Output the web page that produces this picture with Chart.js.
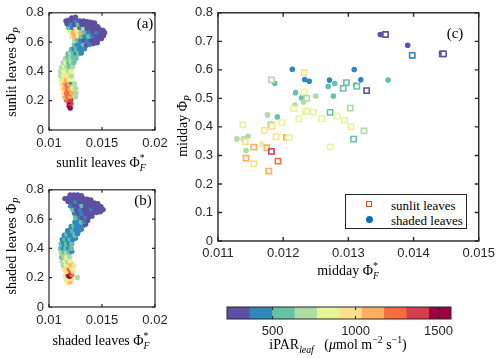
<!DOCTYPE html>
<html>
<head>
<meta charset="utf-8">
<script src="https://cdn.jsdelivr.net/npm/chart.js@4.4.1/dist/chart.umd.min.js"></script>
<style>
  body { margin:0; background:#fff; width:500px; height:358px; position:relative; overflow:hidden; font-family:"Liberation Serif", serif; }
  canvas { position:absolute; }
  .lbl { position:absolute; white-space:nowrap; font-size:14px; color:#000; transform:translate(-50%,-50%); line-height:1; }
  .rot { transform:translate(-50%,-50%) rotate(-90deg); }
  sub, sup { font-size:70%; line-height:0; }
  .ss { display:inline-block; vertical-align:-0.45em; font-size:70%; line-height:1; }
  .ss > span { display:block; }
  .pan { font-size:15px; }
  #leg { position:absolute; left:345px; top:194px; width:120px; height:33px; border:1px solid #262626; background:#fff; }
  #leg .t { position:absolute; left:45px; font-size:13px; line-height:1; transform:translateY(-50%); white-space:nowrap; }
</style>
</head>
<body>
<canvas id="chartA" width="175" height="160" style="left:0;top:0"></canvas>
<canvas id="chartB" width="175" height="160" style="left:0;top:177px"></canvas>
<canvas id="chartC" width="340" height="290" style="left:160px;top:0"></canvas>
<canvas id="cbar" width="280" height="60" style="left:200px;top:295px"></canvas>

<div class="lbl rot" style="left:12px;top:72px">sunlit leaves Φ<sub><i>P</i></sub></div>
<div class="lbl" style="left:101px;top:163px">sunlit leaves Φ<span class="ss"><span>*</span><span><i>F</i></span></span></div>
<div class="lbl rot" style="left:12px;top:246px">shaded leaves Φ<sub><i>P</i></sub></div>
<div class="lbl" style="left:101px;top:341px">shaded leaves Φ<span class="ss"><span>*</span><span><i>F</i></span></span></div>
<div class="lbl rot" style="left:183px;top:126px">midday Φ<sub><i>P</i></sub></div>
<div class="lbl" style="left:348px;top:271px">midday Φ<span class="ss"><span>*</span><span><i>F</i></span></span></div>
<div class="lbl" style="left:338px;top:345px">iPAR<sub><i>leaf</i></sub>&nbsp;&nbsp;&nbsp;(<i>μ</i>mol m<sup>−2</sup> s<sup>−1</sup>)</div>
<div class="lbl pan" style="left:145px;top:23px">(a)</div>
<div class="lbl pan" style="left:143px;top:200px">(b)</div>
<div class="lbl pan" style="left:455px;top:33px">(c)</div>
<div id="leg">
  <div style="position:absolute;left:20px;top:6px;width:4px;height:4px;border:1.5px solid #d95319;background:#fff"></div>
  <div class="t" style="top:10px">sunlit leaves</div>
  <div style="position:absolute;left:20px;top:21px;width:7px;height:7px;border-radius:50%;background:#0072bd"></div>
  <div class="t" style="top:25px">shaded leaves</div>
</div>

<script>
// colour bar (iPAR leaf bins)
const parEdges = [225, 360, 495, 630, 765, 900, 1035, 1170, 1305, 1440, 1575];
const parColors = ['#5e4fa2','#3288bd','#66c2a5','#abdda4','#e6f598','#fee08b','#fdae61','#f46d43','#d53e4f','#9e0142'];
const parTicks = [500, 1000, 1500];

// panel (c): midday values
const sunlitX = [0.01232,0.01182,0.01232,0.01236,0.01216,0.01234,0.01237,0.01246,0.01224,0.01259,0.01272,0.01283,0.01294,0.01198,0.01181,0.01183,0.01138,0.01171,0.01189,0.01205,0.01209,0.01142,0.01155,0.01175,0.01182,0.01143,0.01155,0.01192,0.01178,0.01272,0.01357,0.01398,0.01444,0.01446,0.01297,0.01292,0.01313,0.01328,0.01303,0.01304,0.01324,0.01308];
const sunlitY = [0.590,0.565,0.522,0.500,0.464,0.453,0.455,0.452,0.428,0.428,0.451,0.438,0.423,0.415,0.408,0.402,0.407,0.388,0.365,0.363,0.363,0.348,0.329,0.327,0.314,0.290,0.271,0.280,0.245,0.330,0.724,0.651,0.656,0.656,0.555,0.535,0.542,0.527,0.466,0.400,0.386,0.357];
const sunlitPAR = [968,698,832,698,832,832,832,832,832,832,562,832,832,832,698,968,832,968,968,1102,832,968,1102,1102,1372,1102,968,1238,1102,832,292,428,292,292,562,562,562,292,698,832,698,562];

const shadedX = [0.01214,0.01233,0.01240,0.01271,0.01309,0.01319,0.01187,0.01219,0.01228,0.01269,0.01279,0.01277,0.01311,0.01361,0.01191,0.01231,0.01218,0.01250,0.01176,0.01129,0.01139,0.01146,0.01143,0.01167,0.01349,0.01391];
const shadedY = [0.602,0.566,0.560,0.564,0.601,0.565,0.553,0.520,0.502,0.542,0.552,0.508,0.548,0.564,0.435,0.487,0.477,0.508,0.442,0.358,0.358,0.367,0.317,0.341,0.724,0.686];
const shadedPAR = [428,428,428,428,428,428,562,562,562,562,562,562,562,562,562,698,698,698,698,698,698,698,698,832,292,292];

// panel (a): sunlit leaves, [PhiF*, PhiP, iPAR]
const sunlitCloud = [
  [0.01200,0.150,1508],[0.01190,0.165,1508],[0.01205,0.180,1372],[0.01185,0.195,1508],[0.01165,0.205,1238],[0.01205,0.205,1372],
  [0.01150,0.225,1102],[0.01175,0.225,1238],[0.01200,0.230,1102],[0.01250,0.225,698],[0.01140,0.250,968],[0.01165,0.250,1238],[0.01190,0.250,1238],[0.01215,0.255,1102],[0.01255,0.250,698],
  [0.01130,0.280,968],[0.01150,0.285,1102],[0.01175,0.275,1238],[0.01200,0.280,1102],[0.01225,0.285,832],[0.01250,0.285,698],
  [0.01120,0.310,832],[0.01145,0.315,1102],[0.01170,0.305,1238],[0.01195,0.310,1102],[0.01220,0.320,968],[0.01208,0.327,428],[0.01240,0.315,698],
  [0.01115,0.340,832],[0.01140,0.345,968],[0.01165,0.340,1102],[0.01190,0.345,968],[0.01215,0.345,832],
  [0.01110,0.370,698],[0.01135,0.375,832],[0.01160,0.370,968],[0.01185,0.375,832],[0.01210,0.370,698],
  [0.01110,0.400,698],[0.01135,0.405,832],[0.01160,0.400,832],[0.01185,0.405,698],[0.01210,0.400,832],
  [0.01120,0.430,698],[0.01145,0.435,832],[0.01170,0.430,698],[0.01195,0.435,562],[0.01220,0.430,698],
  [0.01135,0.460,698],[0.01160,0.465,832],[0.01185,0.460,562],[0.01210,0.465,698],[0.01235,0.460,562],
  [0.01155,0.490,698],[0.01180,0.495,562],[0.01205,0.490,698],[0.01230,0.495,562],[0.01255,0.490,562],
  [0.01180,0.520,562],[0.01205,0.525,698],[0.01230,0.520,562],[0.01255,0.525,428],[0.01280,0.520,562],[0.01305,0.525,428],
  [0.01210,0.550,562],[0.01235,0.555,428],[0.01260,0.550,562],[0.01285,0.555,428],[0.01310,0.550,428],[0.01335,0.555,428],
  [0.01240,0.580,562],[0.01265,0.585,428],[0.01295,0.580,428],[0.01325,0.585,562],[0.01355,0.580,292],[0.01385,0.585,428],[0.01420,0.590,292],[0.01455,0.595,292],
  [0.01240,0.610,698],[0.01270,0.615,562],[0.01300,0.610,428],[0.01330,0.615,292],[0.01360,0.610,428],[0.01395,0.615,292],[0.01430,0.615,292],[0.01465,0.620,292],[0.01495,0.625,292],
  [0.01215,0.640,968],[0.01245,0.640,1102],[0.01275,0.645,832],[0.01305,0.640,562],[0.01340,0.645,428],[0.01375,0.640,562],[0.01410,0.645,428],[0.01445,0.645,292],[0.01480,0.645,292],[0.01515,0.645,292],
  [0.01200,0.670,832],[0.01230,0.665,1102],[0.01265,0.670,832],[0.01300,0.665,1102],[0.01335,0.670,562],[0.01370,0.670,428],[0.01410,0.670,292],[0.01450,0.670,428],[0.01490,0.665,292],[0.01525,0.665,292],
  [0.01185,0.700,562],[0.01220,0.700,428],[0.01255,0.695,968],[0.01290,0.700,428],[0.01325,0.700,698],[0.01360,0.695,292],[0.01400,0.695,292],[0.01440,0.690,292],[0.01480,0.685,292],[0.01510,0.680,292],
  [0.01170,0.725,292],[0.01205,0.725,428],[0.01240,0.720,292],[0.01275,0.725,562],[0.01310,0.720,292],[0.01345,0.720,292],[0.01380,0.715,292],[0.01420,0.710,292],[0.01460,0.705,292],
  [0.01160,0.745,292],[0.01190,0.750,292],[0.01220,0.755,292],[0.01255,0.750,428],[0.01290,0.745,292],[0.01325,0.745,292],[0.01360,0.740,292],[0.01395,0.735,292],[0.01430,0.730,292],
  [0.01215,0.765,292],[0.01250,0.770,292]
];

// panel (b): shaded leaves, [PhiF*, PhiP, iPAR]
const shadedCloud = [
  [0.01180,0.165,968],[0.01200,0.175,1102],[0.01165,0.185,832],[0.01190,0.195,968],[0.01212,0.190,968],
  [0.01155,0.210,832],[0.01180,0.215,1372],[0.01195,0.210,1508],[0.01215,0.220,1238],[0.01175,0.235,1508],[0.01200,0.240,1372],[0.01160,0.240,968],[0.01225,0.245,968],[0.01268,0.202,698],
  [0.01140,0.260,832],[0.01165,0.265,968],[0.01190,0.260,1238],[0.01215,0.265,832],[0.01135,0.285,698],[0.01160,0.290,832],[0.01185,0.285,968],[0.01210,0.290,1102],[0.01232,0.280,968],
  [0.01125,0.310,698],[0.01150,0.315,832],[0.01175,0.310,698],[0.01200,0.315,832],[0.01120,0.340,562],[0.01145,0.345,698],[0.01170,0.340,832],[0.01195,0.345,698],
  [0.01115,0.370,698],[0.01140,0.375,562],[0.01165,0.370,698],[0.01190,0.375,562],[0.01215,0.380,428],[0.01110,0.400,562],[0.01135,0.405,428],[0.01160,0.400,562],[0.01185,0.405,428],[0.01210,0.400,562],
  [0.01115,0.430,562],[0.01140,0.435,428],[0.01165,0.430,562],[0.01190,0.435,428],[0.01215,0.430,562],[0.01125,0.460,428],[0.01150,0.465,562],[0.01175,0.460,428],[0.01200,0.465,562],[0.01225,0.460,428],[0.01250,0.470,428],
  [0.01145,0.490,428],[0.01170,0.495,562],[0.01195,0.490,428],[0.01220,0.495,428],[0.01245,0.490,562],[0.01270,0.500,428],[0.01175,0.520,428],[0.01200,0.525,428],[0.01225,0.520,562],[0.01250,0.525,428],[0.01280,0.520,428],[0.01305,0.530,428],
  [0.01210,0.550,428],[0.01235,0.555,562],[0.01260,0.550,428],[0.01290,0.555,428],[0.01320,0.555,428],[0.01345,0.565,292],[0.01245,0.580,428],[0.01275,0.585,428],[0.01305,0.580,562],[0.01335,0.585,428],[0.01365,0.590,292],
  [0.01250,0.610,562],[0.01285,0.615,428],[0.01315,0.610,292],[0.01345,0.615,428],[0.01375,0.615,292],[0.01405,0.620,292],
  [0.01240,0.640,428],[0.01275,0.640,292],[0.01310,0.640,428],[0.01345,0.640,292],[0.01380,0.640,292],[0.01415,0.645,292],[0.01450,0.645,292],[0.01485,0.650,292],
  [0.01225,0.665,562],[0.01260,0.665,292],[0.01295,0.665,428],[0.01330,0.665,292],[0.01365,0.665,292],[0.01400,0.670,428],[0.01435,0.670,292],[0.01470,0.670,292],[0.01510,0.665,292],
  [0.01205,0.690,428],[0.01240,0.695,292],[0.01275,0.690,292],[0.01310,0.695,562],[0.01345,0.690,292],[0.01380,0.690,292],[0.01415,0.690,292],[0.01450,0.690,292],[0.01490,0.685,292],
  [0.01180,0.720,292],[0.01215,0.720,292],[0.01250,0.720,428],[0.01285,0.720,292],[0.01320,0.720,292],[0.01355,0.715,292],[0.01390,0.715,292],[0.01425,0.710,292],[0.01460,0.705,292],
  [0.01150,0.740,292],[0.01185,0.745,292],[0.01220,0.745,292],[0.01255,0.745,292],[0.01290,0.745,292],[0.01325,0.740,292],[0.01360,0.735,292],[0.01395,0.730,292],
  [0.01200,0.765,292],[0.01235,0.765,292],[0.01270,0.765,292],[0.01305,0.760,292]
];

function parColor(v) {
  let i = Math.floor((v - parEdges[0]) / (parEdges[1] - parEdges[0]));
  return parColors[Math.max(0, Math.min(parColors.length - 1, i))];
}

const tickFont = { family: 'Liberation Sans', size: 13 };
const tickColor = '#262626';

// frame with inward ticks on all four sides
const boxPlugin = {
  id: 'box',
  afterDraw(chart, args, opts) {
    const { ctx, chartArea: a, scales } = chart;
    const len = opts.len || 3;
    ctx.save();
    ctx.strokeStyle = '#262626';
    ctx.lineWidth = opts.width || 1.2;
    ctx.strokeRect(a.left, a.top, a.right - a.left, a.bottom - a.top);
    ctx.beginPath();
    const sx = scales.x;
    sx.ticks.forEach(t => {
      const p = sx.getPixelForValue(t.value);
      ctx.moveTo(p, a.bottom); ctx.lineTo(p, a.bottom - len);
      ctx.moveTo(p, a.top); ctx.lineTo(p, a.top + len);
    });
    const sy = scales.y;
    if (sy.type === 'linear') {
      sy.ticks.forEach(t => {
        const p = sy.getPixelForValue(t.value);
        ctx.moveTo(a.left, p); ctx.lineTo(a.left + len, p);
        ctx.moveTo(a.right, p); ctx.lineTo(a.right - len, p);
      });
    }
    ctx.stroke();
    ctx.restore();
  }
};

const fmtY = v => Math.abs(v) < 1e-9 ? '0' : v.toFixed(1);

function cloudChart(id, cloud) {
  return new Chart(document.getElementById(id), {
    type: 'scatter',
    data: {
      datasets: [{
        data: cloud.map(p => ({ x: p[0], y: p[1] })),
        backgroundColor: cloud.map(p => parColor(p[2])),
        pointRadius: 2.7,
        borderWidth: 0
      }]
    },
    options: {
      responsive: false, animation: false,
      layout: { padding: { left: 0, top: 10, right: 20, bottom: 0 } },
      plugins: { legend: { display: false }, tooltip: { enabled: false }, box: { len: 3, width: 1.2 } },
      scales: {
        x: {
          type: 'linear', min: 0.01, max: 0.02,
          grid: { display: false, drawTicks: false }, border: { display: false },
          ticks: { stepSize: 0.005, font: tickFont, color: tickColor, padding: 6, maxRotation: 0,
                   callback: v => String(+v.toFixed(3)) },
          afterFit: s => { s.height = 30; }
        },
        y: {
          min: 0, max: 0.8,
          grid: { display: false, drawTicks: false }, border: { display: false },
          ticks: { stepSize: 0.2, font: tickFont, color: tickColor, padding: 5, callback: fmtY },
          afterFit: s => { s.width = 49; }
        }
      }
    },
    plugins: [boxPlugin]
  });
}

cloudChart('chartA', sunlitCloud);
cloudChart('chartB', shadedCloud);

new Chart(document.getElementById('chartC'), {
  type: 'scatter',
  data: {
    datasets: [{
      label: 'sunlit leaves',
      data: sunlitX.map((x, i) => ({ x: x, y: sunlitY[i] })),
      pointStyle: 'rect',
      pointRadius: 3.7,
      borderWidth: 1.6,
      borderColor: sunlitPAR.map(parColor),
      backgroundColor: '#ffffff'
    }, {
      label: 'shaded leaves',
      data: shadedX.map((x, i) => ({ x: x, y: shadedY[i] })),
      pointRadius: 2.8,
      borderWidth: 0,
      backgroundColor: shadedPAR.map(parColor)
    }]
  },
  options: {
    responsive: false, animation: false,
    layout: { padding: { left: 0, top: 11, right: 21, bottom: 0 } },
    plugins: { legend: { display: false }, tooltip: { enabled: false }, box: { len: 4, width: 1.4 } },
    scales: {
      x: {
        type: 'linear', min: 0.011, max: 0.015,
        grid: { display: false, drawTicks: false }, border: { display: false },
        ticks: { stepSize: 0.001, font: tickFont, color: tickColor, padding: 5, maxRotation: 0,
                 callback: v => v.toFixed(3) },
        afterFit: s => { s.height = 49; }
      },
      y: {
        min: 0, max: 0.8,
        grid: { display: false, drawTicks: false }, border: { display: false },
        ticks: { stepSize: 0.1, font: tickFont, color: tickColor, padding: 5, callback: fmtY },
        afterFit: s => { s.width = 58; }
      }
    }
  },
  plugins: [boxPlugin]
});

// colour bar as floating horizontal bars
new Chart(document.getElementById('cbar'), {
  type: 'bar',
  data: {
    labels: [''],
    datasets: parColors.map((c, i) => ({
      data: [[parEdges[i], parEdges[i + 1]]],
      backgroundColor: c,
      borderWidth: 0,
      barPercentage: 1,
      categoryPercentage: 1,
      grouped: false
    }))
  },
  options: {
    indexAxis: 'y',
    responsive: false, animation: false,
    layout: { padding: { left: 27, top: 12, right: 29, bottom: 0 } },
    plugins: { legend: { display: false }, tooltip: { enabled: false }, box: { len: 3, width: 1 } },
    scales: {
      x: {
        type: 'linear', min: parEdges[0], max: parEdges[parEdges.length - 1],
        grid: { display: false, drawTicks: false }, border: { display: false },
        afterBuildTicks: s => { s.ticks = parTicks.map(v => ({ value: v })); },
        ticks: { font: tickFont, color: tickColor, padding: 5, maxRotation: 0, autoSkip: false,
                 callback: v => String(v) },
        afterFit: s => { s.height = 36; }
      },
      y: { display: false }
    }
  },
  plugins: [boxPlugin]
});
</script>
</body>
</html>
